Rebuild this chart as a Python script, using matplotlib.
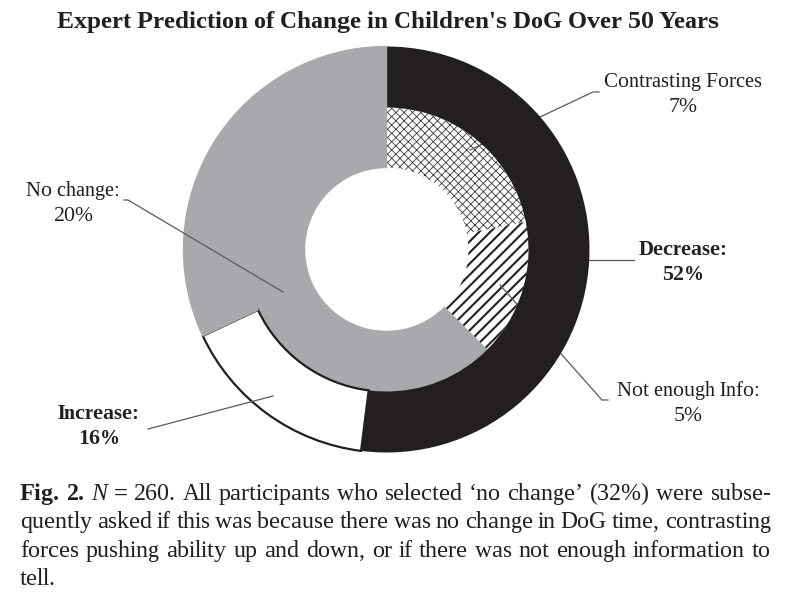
import matplotlib
matplotlib.use("Agg")
import matplotlib.pyplot as plt

plt.rcParams['font.family'] = ['Liberation Serif', 'DejaVu Serif']
plt.rcParams['hatch.linewidth'] = 1.5
plt.rcParams['text.hinting'] = 'native'
plt.rcParams['text.hinting_factor'] = 1

# data
outer_labels = ["Decrease", "Increase", "No change (total)"]
outer_vals = [52, 16, 32]
outer_cols = ["#231f20", "#ffffff", "#a7a9ac"]

inner_labels = ["Contrasting Forces", "Not enough Info", "No change"]
inner_vals = [7, 5, 20]
inner_cols = ["#ffffff", "#ffffff", "#a7a9ac"]
inner_hatch = ["xxxx", "///", None]

title = "Expert Prediction of Change in Children's DoG Over 50 Years"

caption_lines = [
    [("Fig.", "bold", "normal"), ("2.", "bold", "normal"), ("N", "normal", "italic"),
     ("=", "normal", "normal"), ("260.", "normal", "normal")]
    + [(w, "normal", "normal") for w in
       "All participants who selected ‘no change’ (32%) were subse-".split()],
    [(w, "normal", "normal") for w in
     "quently asked if this was because there was no change in DoG time, contrasting".split()],
    [(w, "normal", "normal") for w in
     "forces pushing ability up and down, or if there was not enough information to".split()],
    [(w, "normal", "normal") for w in "tell.".split()],
]

W, H = 805, 599
fig = plt.figure(figsize=(W / 100, H / 100), dpi=100)
ax = fig.add_axes([0, 0, 1, 1])


def py(y):
    # pixel row (from top) -> data y
    return H - y


cx, cy = 386.5, py(249.5)
R = 203
gray = "#a7a9ac"

w_out, _ = ax.pie(outer_vals, colors=outer_cols, startangle=90, counterclock=False,
                  radius=R, center=(cx, cy), frame=True,
                  wedgeprops=dict(width=61, linewidth=0))
for w in w_out:
    w.set_zorder(3)
w_out[1].set_edgecolor("#231f20")
w_out[1].set_linewidth(1.6)
w_out[2].set_edgecolor(gray)
w_out[2].set_linewidth(1.0)

w_in, _ = ax.pie(inner_vals, colors=inner_cols, startangle=90, counterclock=False,
                 radius=142, center=(cx, cy), frame=True,
                 wedgeprops=dict(width=60, linewidth=0))
for w, h in zip(w_in, inner_hatch):
    w.set_zorder(1)
    if h:
        w.set_hatch(h)
        w.set_edgecolor("#231f20" if h == "///" else "#3a3a3a")
        w.set_linewidth(0)
        if hasattr(w, "set_hatch_linewidth"):
            w.set_hatch_linewidth(0.6 if h == "xxxx" else 1.5)
    else:
        w.set_edgecolor(gray)
        w.set_linewidth(1.0)

ax.set_xlim(0, W)
ax.set_ylim(0, H)
ax.set_aspect("equal")
ax.axis("off")

tc = "#231f20"
ax.text(388, py(22), title, ha="center", va="center", fontsize=18.2,
        fontweight="bold", color=tc)

lc = "#58595b"
# leader lines (x, y in pixel rows)
leaders = [
    ([470, 593, 599], [150, 92, 92], 2),
    ([585, 634], [260, 260], 2),
    ([500, 602, 608], [285, 400, 400], 2),
    ([283, 128, 124], [292, 200, 200], 5),
    ([273, 148], [396, 429], 5),
]
for xs, ys, z in leaders:
    ax.plot(xs, [py(v) for v in ys], color=lc, lw=0.9, zorder=z)

lab_fs = 15
ls = 1.45
ax.text(683, py(94), "Contrasting Forces\n7%", ha="center", va="center",
        fontsize=lab_fs, color=tc, linespacing=ls)
ax.text(683, py(262), "Decrease:\n52%", ha="center", va="center",
        fontsize=lab_fs, fontweight="bold", color=tc, linespacing=ls)
ax.text(688, py(403), "Not enough Info:\n5%", ha="center", va="center",
        fontsize=lab_fs, color=tc, linespacing=ls)
ax.text(73, py(203), "No change:\n20%", ha="center", va="center",
        fontsize=lab_fs, color=tc, linespacing=ls)
ax.text(99, py(426), "Increase:\n16%", ha="center", va="center",
        fontsize=lab_fs, fontweight="bold", color=tc, linespacing=ls)

# justified caption
left, right = 20, 771
baselines = [500, 528, 557, 585]
cap_fs = 17
renderer = fig.canvas.get_renderer()
for i, (words, base) in enumerate(zip(caption_lines, baselines)):
    texts = [ax.text(0, py(base), w, fontsize=cap_fs, fontweight=wt, fontstyle=st,
                     color=tc, va="baseline", ha="left")
             for w, wt, st in words]
    widths = [t.get_window_extent(renderer).width for t in texts]
    if i < len(caption_lines) - 1 and len(texts) > 1:
        gap = (right - left - sum(widths)) / (len(texts) - 1)
    else:
        gap = cap_fs * 0.25 * 100 / 72
    x = left
    for t, wd in zip(texts, widths):
        t.set_x(x)
        x += wd + gap

fig.savefig("out.png", dpi=100)
